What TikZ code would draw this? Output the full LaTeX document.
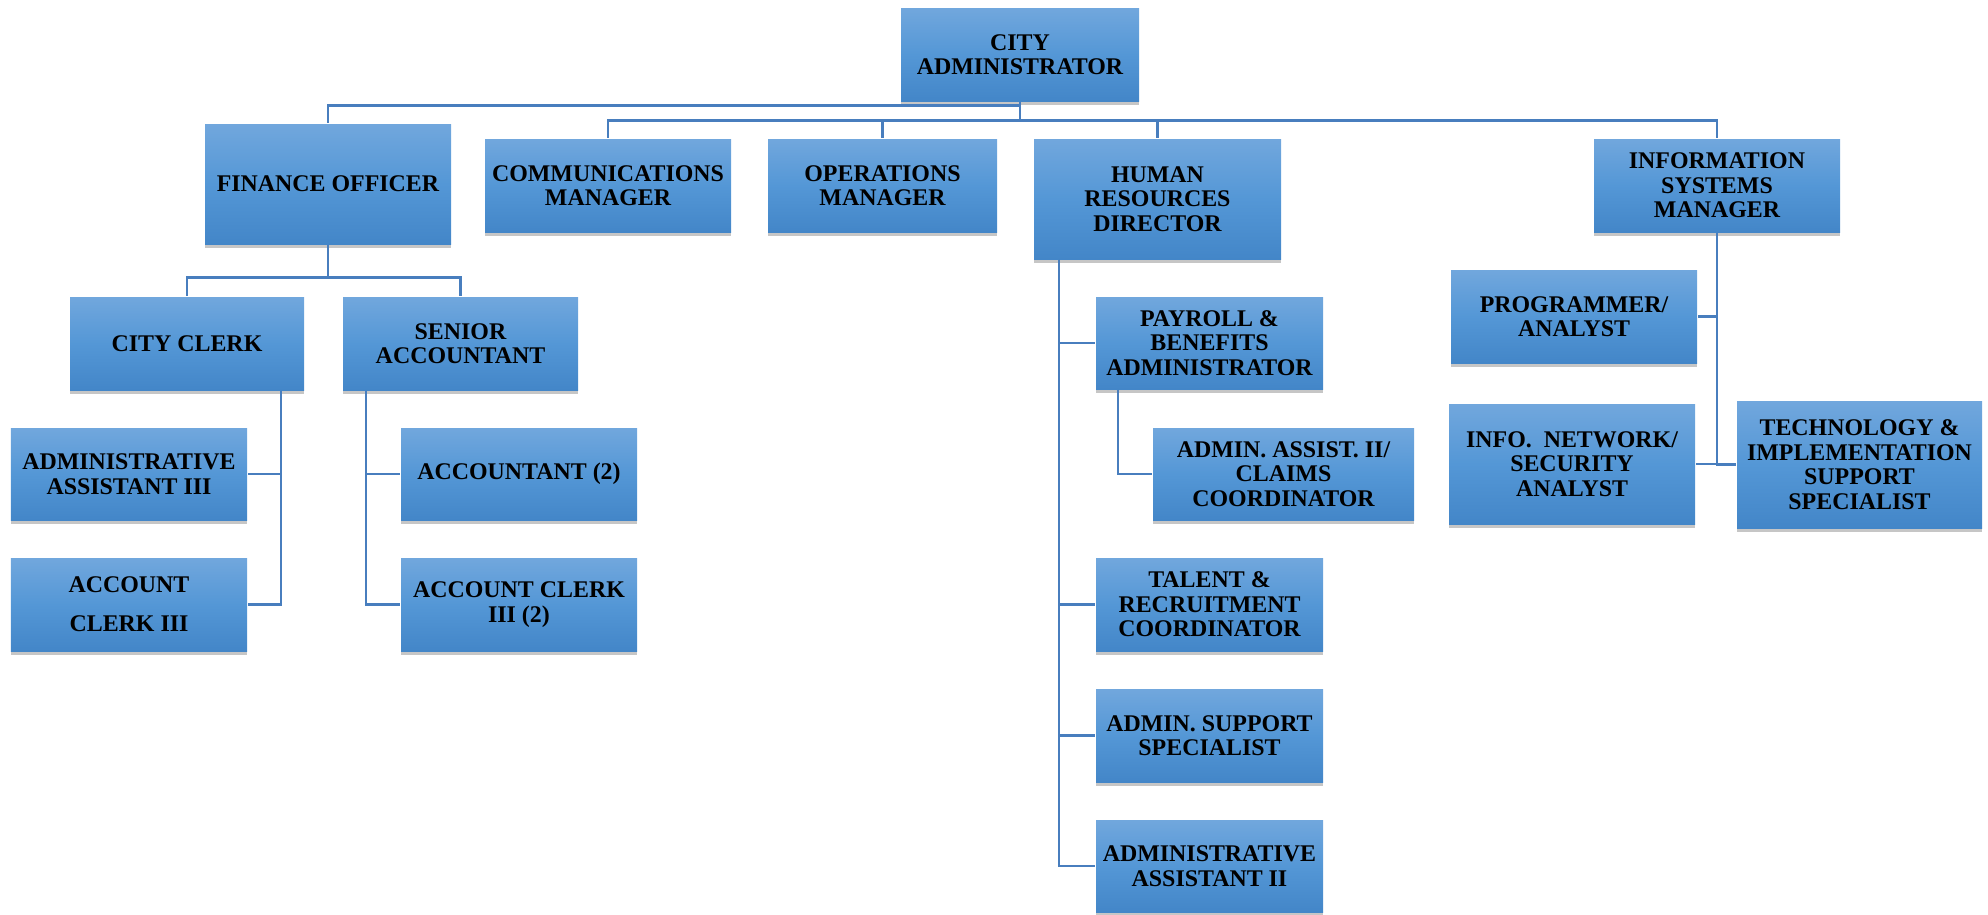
\documentclass[tikz,border=0pt]{standalone}
\usepackage{fontspec}
\setmainfont{Liberation Serif}
\usetikzlibrary{shadows}
\definecolor{boxtop}{RGB}{113,167,221}
\definecolor{boxmid}{RGB}{84,151,214}
\definecolor{boxbot}{RGB}{67,134,200}
\definecolor{linecol}{RGB}{72,126,190}

\begin{document}
\begin{tikzpicture}[
    post/.style={top color=boxtop, bottom color=boxbot, middle color=boxmid,
        minimum width=2.46cm, minimum height=0.93cm, inner sep=1pt, align=center,
        font=\fontsize{6.8}{7}\selectfont\bfseries,
        drop shadow={shadow xshift=0pt, shadow yshift=-1.2pt, opacity=0.45}},
    link/.style={draw=linecol, line width=0.8pt}
]
    \useasboundingbox (0,0) rectangle (19.88,-9.14);
    % top of the chart
    \node[post, minimum width=2.38cm] (admin) at (10.20,-0.545) {CITY\\ADMINISTRATOR};
    \node[post, minimum height=1.20cm] (fin) at (3.28,-1.84) {FINANCE OFFICER};
    \node[post] (comm) at (6.08,-1.855) {COMMUNICATIONS\\MANAGER};
    \node[post, minimum width=2.29cm] (ops) at (8.825,-1.855) {OPERATIONS\\MANAGER};
    \node[post, minimum width=2.47cm, minimum height=1.20cm] (hr) at (11.575,-1.99) {HUMAN\\RESOURCES\\DIRECTOR};
    \node[post] (ism) at (17.17,-1.855) {INFORMATION\\SYSTEMS\\MANAGER};
    % finance
    \node[post, minimum width=2.34cm] (clerk) at (1.87,-3.435) {CITY CLERK};
    \node[post, minimum width=2.35cm] (sracc) at (4.605,-3.435) {SENIOR\\ACCOUNTANT};
    \node[post, minimum width=2.36cm, minimum height=0.92cm] (aa3) at (1.29,-4.74) {ADMINISTRATIVE\\ASSISTANT III};
    \node[post, minimum width=2.36cm] (ac3) at (1.29,-6.045) {ACCOUNT\\[4pt]CLERK III};
    \node[post, minimum width=2.36cm, minimum height=0.92cm] (acc) at (5.19,-4.74) {ACCOUNTANT (2)};
    \node[post, minimum width=2.36cm] (acc2) at (5.19,-6.045) {ACCOUNT CLERK\\III (2)};
    % human resources
    \node[post, minimum width=2.27cm, minimum height=0.92cm] (pay) at (12.095,-3.43) {PAYROLL \&\\BENEFITS\\ADMINISTRATOR};
    \node[post, minimum width=2.61cm, minimum height=0.92cm] (aa2c) at (12.835,-4.74) {ADMIN. ASSIST. II/\\CLAIMS\\COORDINATOR};
    \node[post, minimum width=2.27cm] (talent) at (12.095,-6.045) {TALENT \&\\RECRUITMENT\\COORDINATOR};
    \node[post, minimum width=2.27cm] (sup) at (12.095,-7.355) {ADMIN. SUPPORT\\SPECIALIST};
    \node[post, minimum width=2.27cm, minimum height=0.92cm] (aa2) at (12.095,-8.66) {ADMINISTRATIVE\\ASSISTANT II};
    % information systems
    \node[post] (prog) at (15.74,-3.165) {PROGRAMMER/\\ANALYST};
    \node[post, minimum height=1.20cm] (net) at (15.72,-4.64) {INFO.\ \ NETWORK/\\SECURITY\\ANALYST};
    \node[post, minimum width=2.45cm, minimum height=1.27cm] (tech) at (18.595,-4.645) {TECHNOLOGY \&\\IMPLEMENTATION\\SUPPORT\\SPECIALIST};

    % lines from the administrator
    \draw[link] (admin.south) -- ++(0,-0.04) -| (fin.north);
    \draw[link] (admin.south) -- ++(0,-0.19) coordinate (bus);
    \foreach \n in {comm,ops,hr,ism}
        \draw[link] (bus) -| (\n.north);
    % finance lines
    \draw[link] (fin.south) -- ++(0,-0.33) coordinate (fbus) -| (clerk.north);
    \draw[link] (fbus) -| (sracc.north);
    \draw[link] ([xshift=0.94cm]clerk.south) |- (aa3.east);
    \draw[link] ([xshift=0.94cm]clerk.south) |- (ac3.east);
    \draw[link] ([xshift=-0.945cm]sracc.south) |- (acc.west);
    \draw[link] ([xshift=-0.945cm]sracc.south) |- (acc2.west);
    % hr lines
    \foreach \n in {pay,talent,sup,aa2}
        \draw[link] ([xshift=-0.985cm]hr.south) |- (\n.west);
    \draw[link] ([xshift=-0.915cm]pay.south) |- (aa2c.west);
    % info systems lines
    \draw[link] (ism.south) |- (prog.east);
    \draw[link] (ism.south) |- (net.east);
    \draw[link] (ism.south) |- (tech.west);
\end{tikzpicture}
\end{document}
